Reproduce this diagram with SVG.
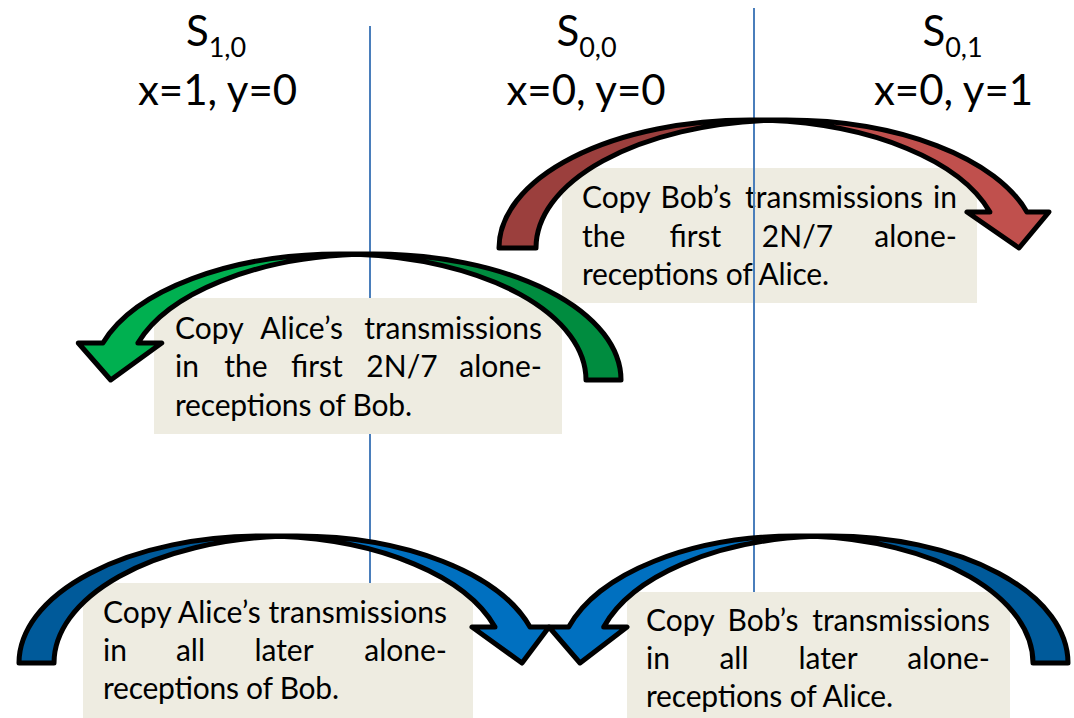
<svg xmlns="http://www.w3.org/2000/svg" width="1074" height="718" viewBox="0 0 1074 718">
<style>
.t{font-family:Lato,"Liberation Sans",sans-serif;fill:#000}
.title{font-size:42px;text-anchor:middle}
.sub{font-size:27px}
.b{font-size:30px}
.m{text-anchor:middle}
.e{text-anchor:end}
.box{fill:#EEECE1}
.sep{stroke:#4A7EBB;stroke-width:2}
.ol{fill:none;stroke:#000;stroke-width:5;stroke-linejoin:round}
.rh{fill:#C0504D}.rt{fill:#9B3F3D}
.gh{fill:#00B050}.gt{fill:#008C3F}
.bh{fill:#0070C0}.bt{fill:#005A9A}
</style>
<rect width="1074" height="718" fill="#fff"/>
<g id="state-S10">
<text class="t title" x="216" y="46">S<tspan class="sub" dy="11">1,0</tspan></text>
<text class="t title" x="217.5" y="105">x=1, y=0</text>
</g>
<g id="state-S00">
<text class="t title" x="586.5" y="46">S<tspan class="sub" dy="11">0,0</tspan></text>
<text class="t title" x="586" y="105">x=0, y=0</text>
</g>
<g id="state-S01">
<text class="t title" x="952.5" y="46">S<tspan class="sub" dy="11">0,1</tspan></text>
<text class="t title" x="953.5" y="105">x=0, y=1</text>
</g>
<g id="box-red">
<rect class="box" x="562" y="168" width="415" height="135"/>
<text class="t b" x="582" y="208">Copy</text>
<text class="t b m" x="696" y="208">Bob’s</text>
<text class="t b m" x="834" y="208">transmissions</text>
<text class="t b e" x="957" y="208">in</text>
<text class="t b" x="582" y="246.5">the</text>
<text class="t b m" x="695.5" y="246.5">first</text>
<text class="t b m" x="797.5" y="246.5">2N/7</text>
<text class="t b e" x="957" y="246.5">alone-</text>
<text class="t b" x="582" y="285" textLength="247" lengthAdjust="spacing">receptions of Alice.</text>
</g>
<g id="separators">
<line class="sep" x1="370" y1="26" x2="370" y2="583"/>
<line class="sep" x1="754" y1="8" x2="754" y2="592"/>
</g>
<g id="box-green">
<rect class="box" x="154" y="298" width="408" height="136"/>
<text class="t b" x="175" y="338.5">Copy</text>
<text class="t b m" x="301.6" y="338.5">Alice’s</text>
<text class="t b e" x="542" y="338.5">transmissions</text>
<text class="t b" x="175" y="377">in</text>
<text class="t b m" x="246" y="377">the</text>
<text class="t b m" x="317" y="377">first</text>
<text class="t b m" x="402" y="377">2N/7</text>
<text class="t b e" x="542" y="377">alone-</text>
<text class="t b" x="175" y="415.5" textLength="237" lengthAdjust="spacing">receptions of Bob.</text>
</g>
<g id="box-blue-left">
<rect class="box" x="83" y="583" width="390" height="135"/>
<text class="t b" x="103" y="623" textLength="344" lengthAdjust="spacing">Copy Alice’s transmissions</text>
<text class="t b" x="103" y="661">in</text>
<text class="t b m" x="190.5" y="661">all</text>
<text class="t b m" x="284" y="661">later</text>
<text class="t b e" x="447" y="661">alone-</text>
<text class="t b" x="103" y="699" textLength="236" lengthAdjust="spacing">receptions of Bob.</text>
</g>
<g id="box-blue-right">
<rect class="box" x="627" y="592" width="383" height="126"/>
<text class="t b" x="646" y="631">Copy</text>
<text class="t b m" x="763" y="631">Bob’s</text>
<text class="t b e" x="990" y="631">transmissions</text>
<text class="t b" x="646" y="669">in</text>
<text class="t b m" x="734" y="669">all</text>
<text class="t b m" x="828" y="669">later</text>
<text class="t b e" x="990" y="669">alone-</text>
<text class="t b" x="646" y="707" textLength="247" lengthAdjust="spacing">receptions of Alice.</text>
</g>
<g id="connectors">
<g id="arrow-red">
<path class="rt" d="M499,248 A250.5,128 0 0 1 768,120.35 A250.5,128 0 0 0 536,248 Z"/>
<path class="rh" d="M1019,248 L967,212 L989.9,212 A250.5,128 0 0 0 749.5,120 L786.5,120 A250.5,128 0 0 1 1026.9,212 L1049,212 Z"/>
<path class="ol" d="M499,248 A250.5,128 0 0 1 749.5,120 L786.5,120 A250.5,128 0 0 1 1026.9,212 L1049,212 L1019,248 L967,212 L989.9,212 A250.5,128 0 0 0 768,120.35 A250.5,128 0 0 0 536,248 Z"/>
</g>
<g id="arrow-green">
<path class="gt" d="M621,380 A247,126 0 0 0 356.5,254.32 A247,126 0 0 1 586,380 Z"/>
<path class="gh" d="M110.7,380 L161.7,343 L137.9,343 A247,126 0 0 1 374,254 L339,254 A247,126 0 0 0 102.9,343 L78.3,343 Z"/>
<path class="ol" d="M621,380 A247,126 0 0 0 374,254 L339,254 A247,126 0 0 0 102.9,343 L78.3,343 L110.7,380 L161.7,343 L137.9,343 A247,126 0 0 1 356.5,254.32 A247,126 0 0 1 586,380 Z"/>
</g>
<g id="arrow-blue-left">
<path class="bt" d="M19,663 A243,127 0 0 1 279.5,536.33 A243,127 0 0 0 54,663 Z"/>
<path class="bh" d="M522,663 L472,627 L495,627 A243,127 0 0 0 262,536 L297,536 A243,127 0 0 1 530,627 L549,627 Z"/>
<path class="ol" d="M19,663 A243,127 0 0 1 262,536 L297,536 A243,127 0 0 1 530,627 L549,627 L522,663 L472,627 L495,627 A243,127 0 0 0 279.5,536.33 A243,127 0 0 0 54,663 Z"/>
</g>
<g id="arrow-blue-right">
<path class="bt" d="M1068,663 A237,127 0 0 0 813.5,536.35 A237,127 0 0 1 1033,663 Z"/>
<path class="bh" d="M580,663 L627,627 L603.7,627 A237,127 0 0 1 831,536 L796,536 A237,127 0 0 0 568.7,627 L549,627 Z"/>
<path class="ol" d="M1068,663 A237,127 0 0 0 831,536 L796,536 A237,127 0 0 0 568.7,627 L549,627 L580,663 L627,627 L603.7,627 A237,127 0 0 1 813.5,536.35 A237,127 0 0 1 1033,663 Z"/>
</g>
</g>
</svg>
